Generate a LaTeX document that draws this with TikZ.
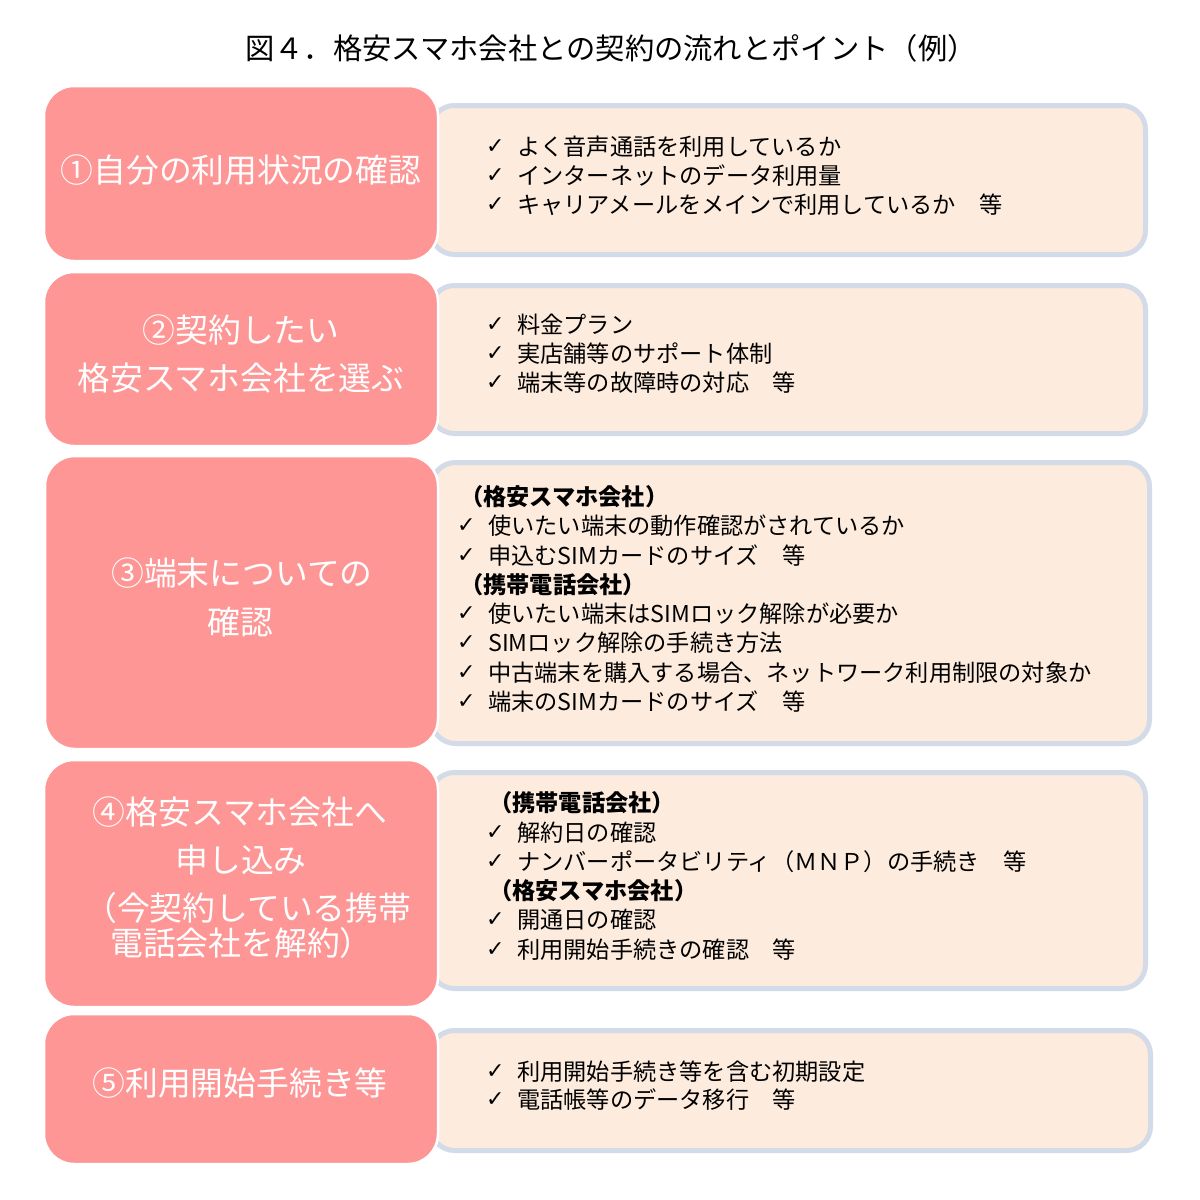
\documentclass[tikz,border=0pt]{standalone}
\usepackage{fontspec}
\setmainfont{Noto Sans CJK JP}
\newfontfamily\symfont{DejaVu Sans}
\definecolor{pinkfill}{HTML}{FE9696}
\definecolor{peach}{HTML}{FDEBDD}
\definecolor{bluegray}{HTML}{D3DAE8}
\tikzset{
  pinkbox/.style={draw=white, line width=2.5pt, fill=pinkfill, rounded corners=30pt, inner sep=0pt},
  infobox/.style={draw=bluegray, line width=5pt, fill=peach, rounded corners=24pt, inner sep=0pt},
  steptext/.style={text=white, inner sep=0pt, font=\fontsize{32.8}{32.8}\selectfont},
  item/.style={anchor=west, inner sep=0pt, font=\fontsize{23.2}{23.2}\selectfont},
  head/.style={anchor=west, inner sep=0pt, font=\fontsize{23.2}{23.2}\selectfont\bfseries},
  chk/.style={anchor=west, inner sep=0pt, font=\symfont\fontsize{22}{22}\selectfont},
  titletext/.style={inner sep=0pt, font=\fontsize{29.3}{29.3}\selectfont}
}
\begin{document}
\begin{tikzpicture}[x=1pt,y=-1pt]
\useasboundingbox (0,0) rectangle (1200,1200);
\fill[white] (0,0) rectangle (1200,1200);

\node[titletext] (title) at (611,48) {図４．格安スマホ会社との契約の流れとポイント（例）};

% right info boxes
\node[infobox, minimum width=715pt, minimum height=149pt] (r1) at (788,180) {};
\node[infobox, minimum width=715pt, minimum height=148pt] (r2) at (788,359.5) {};
\node[infobox, minimum width=718pt, minimum height=281pt] (r3) at (790.5,603) {};
\node[infobox, minimum width=715pt, minimum height=216pt] (r4) at (788,880.5) {};
\node[infobox, minimum width=720pt, minimum height=120pt] (r5) at (790.5,1090.5) {};

% left pink boxes
\node[pinkbox, minimum width=394pt, minimum height=175pt] (p1) at (241,173.5) {};
\node[pinkbox, minimum width=394pt, minimum height=174pt] (p2) at (241,359) {};
\node[pinkbox, minimum width=393pt, minimum height=293pt] (p3) at (241.5,602.5) {};
\node[pinkbox, minimum width=394pt, minimum height=247pt] (p4) at (241,883.5) {};
\node[pinkbox, minimum width=394pt, minimum height=150pt] (p5) at (241,1089) {};

% step texts
\node[steptext] (s1) at (241,170) {①自分の利用状況の確認};
\node[steptext] (s2a) at (241,330) {②契約したい};
\node[steptext] (s2b) at (241,378) {格安スマホ会社を選ぶ};
\node[steptext] (s3a) at (242,573) {③端末についての};
\node[steptext] (s3b) at (240,622) {確認};
\node[steptext] (s4a) at (240,812) {④格安スマホ会社へ};
\node[steptext] (s4b) at (241,860) {申し込み};
\node[steptext, anchor=west] (s4c) at (84,908) {（今契約している携帯};
\node[steptext, anchor=west] (s4d) at (110,943) {電話会社を解約）};
\node[steptext] (s5) at (240,1083) {⑤利用開始手続き等};

% box 1 items
\node[chk] (c11) at (486,147) {✓};
\node[item] (t11) at (517,147) {よく音声通話を利用しているか};
\node[chk] (c12) at (486,176) {✓};
\node[item] (t12) at (517,176) {インターネットのデータ利用量};
\node[chk] (c13) at (486,205) {✓};
\node[item] (t13) at (517,205) {キャリアメールをメインで利用しているか　等};

% box 2 items
\node[chk] (c21) at (486,325) {✓};
\node[item] (t21) at (517,325) {料金プラン};
\node[chk] (c22) at (486,354) {✓};
\node[item] (t22) at (517,354) {実店舗等のサポート体制};
\node[chk] (c23) at (486,383) {✓};
\node[item] (t23) at (517,383) {端末等の故障時の対応　等};

% box 3 items
\node[head] (h31) at (460,497) {（格安スマホ会社）};
\node[chk] (c31) at (457,526) {✓};
\node[item] (t31) at (488,526) {使いたい端末の動作確認がされているか};
\node[chk] (c32) at (457,556) {✓};
\node[item] (t32) at (488,556) {申込むSIMカードのサイズ　等};
\node[head] (h32) at (460,585) {（携帯電話会社）};
\node[chk] (c33) at (457,614) {✓};
\node[item] (t33) at (488,614) {使いたい端末はSIMロック解除が必要か};
\node[chk] (c34) at (457,643) {✓};
\node[item] (t34) at (488,643) {SIMロック解除の手続き方法};
\node[chk] (c35) at (457,673) {✓};
\node[item] (t35) at (488,673) {中古端末を購入する場合、ネットワーク利用制限の対象か};
\node[chk] (c36) at (457,702) {✓};
\node[item] (t36) at (488,702) {端末のSIMカードのサイズ　等};

% box 4 items
\node[head] (h41) at (489,803) {（携帯電話会社）};
\node[chk] (c41) at (486,833) {✓};
\node[item] (t41) at (517,833) {解約日の確認};
\node[chk] (c42) at (486,862) {✓};
\node[item] (t42) at (517,862) {ナンバーポータビリティ（ＭＮＰ）の手続き　等};
\node[head] (h42) at (489,891) {（格安スマホ会社）};
\node[chk] (c43) at (486,920) {✓};
\node[item] (t43) at (517,920) {開通日の確認};
\node[chk] (c44) at (486,950) {✓};
\node[item] (t44) at (517,950) {利用開始手続きの確認　等};

% box 5 items
\node[chk] (c51) at (486,1072) {✓};
\node[item] (t51) at (517,1072) {利用開始手続き等を含む初期設定};
\node[chk] (c52) at (486,1100) {✓};
\node[item] (t52) at (517,1100) {電話帳等のデータ移行　等};
\end{tikzpicture}
\end{document}
